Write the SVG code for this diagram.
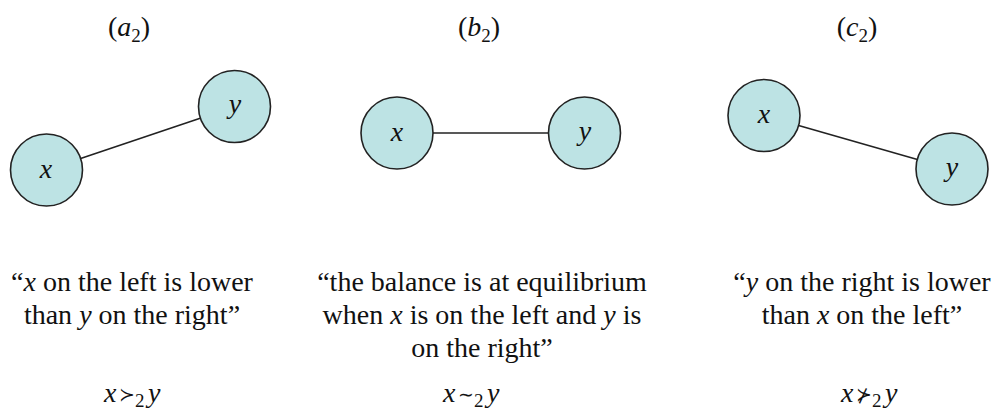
<svg xmlns="http://www.w3.org/2000/svg" width="993" height="412" viewBox="0 0 993 412">
<style>
text, tspan { font-family: 'Liberation Serif', serif !important; }
text.sym, tspan.sym { font-family: 'DejaVu Sans', sans-serif !important; }
</style>
<defs>
<circle id="nodeShape" r="36" fill="#bde3e4" stroke="#222" stroke-width="1.6"/>
</defs>
<rect width="993" height="412" fill="#fff"/>
<g id="titles">
<text style="font-family:'Liberation Serif',serif !important" font-size="28" fill="#111" text-anchor="middle" x="129" y="36">(<tspan style="font-family:'Liberation Serif',serif !important" font-style="italic">a</tspan><tspan style="font-family:'Liberation Serif',serif !important" font-size="19" dy="6">2</tspan><tspan style="font-family:'Liberation Serif',serif !important" dy="-6">)</tspan></text>
<text style="font-family:'Liberation Serif',serif !important" font-size="28" fill="#111" text-anchor="middle" x="479" y="36">(<tspan style="font-family:'Liberation Serif',serif !important" font-style="italic">b</tspan><tspan style="font-family:'Liberation Serif',serif !important" font-size="19" dy="6">2</tspan><tspan style="font-family:'Liberation Serif',serif !important" dy="-6">)</tspan></text>
<text style="font-family:'Liberation Serif',serif !important" font-size="28" fill="#111" text-anchor="middle" x="857" y="36">(<tspan style="font-family:'Liberation Serif',serif !important" font-style="italic">c</tspan><tspan style="font-family:'Liberation Serif',serif !important" font-size="19" dy="6">2</tspan><tspan style="font-family:'Liberation Serif',serif !important" dy="-6">)</tspan></text>
</g>
<g id="connectors" stroke="#222" stroke-width="1.6">
<line x1="80.6" y1="158.5" x2="200.9" y2="117.9"/>
<line x1="433" y1="133" x2="549" y2="133"/>
<line x1="798.6" y1="125.4" x2="917.4" y2="159.4"/>
</g>
<g id="a2-x"><use href="#nodeShape" x="46.5" y="170"/><text style="font-family:'Liberation Serif',serif !important" font-size="28" fill="#111" text-anchor="middle" font-style="italic" x="46" y="178">x</text></g>
<g id="a2-y"><use href="#nodeShape" x="234.5" y="106.5"/><text style="font-family:'Liberation Serif',serif !important" font-size="28" fill="#111" text-anchor="middle" font-style="italic" x="235" y="113">y</text></g>
<g id="b2-x"><use href="#nodeShape" x="397" y="133"/><text style="font-family:'Liberation Serif',serif !important" font-size="28" fill="#111" text-anchor="middle" font-style="italic" x="397" y="141">x</text></g>
<g id="b2-y"><use href="#nodeShape" x="584.5" y="133"/><text style="font-family:'Liberation Serif',serif !important" font-size="28" fill="#111" text-anchor="middle" font-style="italic" x="585" y="140">y</text></g>
<g id="c2-x"><use href="#nodeShape" x="764" y="115.5"/><text style="font-family:'Liberation Serif',serif !important" font-size="28" fill="#111" text-anchor="middle" font-style="italic" x="764" y="123">x</text></g>
<g id="c2-y"><use href="#nodeShape" x="952" y="169"/><text style="font-family:'Liberation Serif',serif !important" font-size="28" fill="#111" text-anchor="middle" font-style="italic" x="952" y="176">y</text></g>
<g id="captions">
<text style="font-family:'Liberation Serif',serif !important" font-size="28" fill="#111" text-anchor="middle" x="132" y="291">“<tspan style="font-family:'Liberation Serif',serif !important" font-style="italic">x</tspan> on the left is lower</text>
<text style="font-family:'Liberation Serif',serif !important" font-size="28" fill="#111" text-anchor="middle" x="132" y="324">than <tspan style="font-family:'Liberation Serif',serif !important" font-style="italic">y</tspan> on the right”</text>
<text style="font-family:'Liberation Serif',serif !important" font-size="28" fill="#111" text-anchor="middle" x="482" y="291">“the balance is at equilibrium</text>
<text style="font-family:'Liberation Serif',serif !important" font-size="28" fill="#111" text-anchor="middle" x="482" y="324">when <tspan style="font-family:'Liberation Serif',serif !important" font-style="italic">x</tspan> is on the left and <tspan style="font-family:'Liberation Serif',serif !important" font-style="italic">y</tspan> is</text>
<text style="font-family:'Liberation Serif',serif !important" font-size="28" fill="#111" text-anchor="middle" x="482" y="357">on the right”</text>
<text style="font-family:'Liberation Serif',serif !important" font-size="28" fill="#111" text-anchor="middle" x="862" y="291">“<tspan style="font-family:'Liberation Serif',serif !important" font-style="italic">y</tspan> on the right is lower</text>
<text style="font-family:'Liberation Serif',serif !important" font-size="28" fill="#111" text-anchor="middle" x="862" y="324">than <tspan style="font-family:'Liberation Serif',serif !important" font-style="italic">x</tspan> on the left”</text>
</g>
<g id="relation-a2" fill="#111">
<text style="font-family:'Liberation Serif',serif !important" font-size="28" font-style="italic" x="104" y="402">x</text>
<text class="sym" style="font-family:'DejaVu Sans',sans-serif !important" font-size="19" x="119" y="401">≻</text>
<text style="font-family:'Liberation Serif',serif !important" font-size="19" x="135" y="407">2</text>
<text style="font-family:'Liberation Serif',serif !important" font-size="28" font-style="italic" x="148" y="402">y</text>
</g>
<g id="relation-b2" fill="#111">
<text style="font-family:'Liberation Serif',serif !important" font-size="28" font-style="italic" x="443" y="402">x</text>
<text class="sym" style="font-family:'DejaVu Sans',sans-serif !important" font-size="19" x="458" y="401">∼</text>
<text style="font-family:'Liberation Serif',serif !important" font-size="19" x="474" y="407">2</text>
<text style="font-family:'Liberation Serif',serif !important" font-size="28" font-style="italic" x="487" y="402">y</text>
</g>
<g id="relation-c2" fill="#111">
<text style="font-family:'Liberation Serif',serif !important" font-size="28" font-style="italic" x="841" y="402">x</text>
<text class="sym" style="font-family:'DejaVu Sans',sans-serif !important" font-size="19" x="856" y="401">⊁</text>
<text style="font-family:'Liberation Serif',serif !important" font-size="19" x="872" y="407">2</text>
<text style="font-family:'Liberation Serif',serif !important" font-size="28" font-style="italic" x="885" y="402">y</text>
</g>
</svg>
